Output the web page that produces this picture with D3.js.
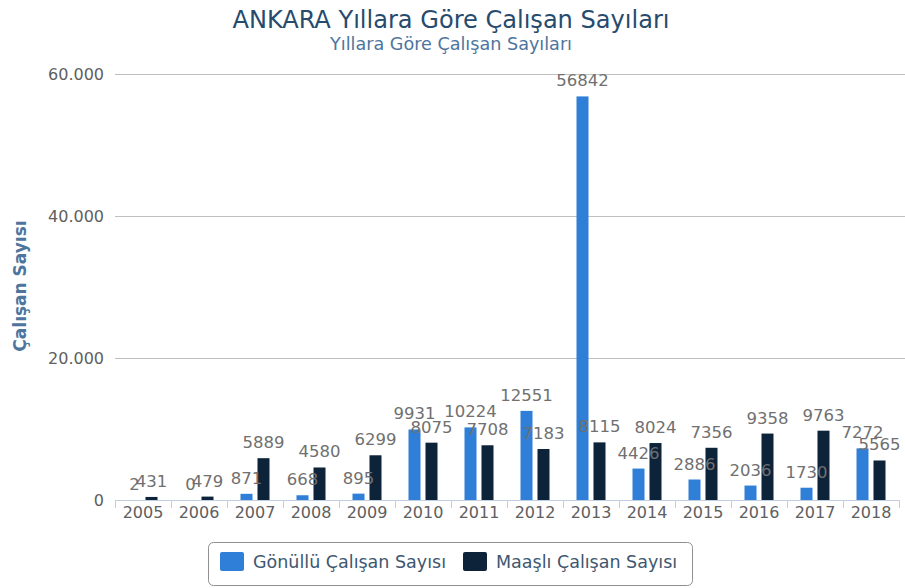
<!DOCTYPE html>
<html>
<head>
<meta charset="utf-8">
<script src="https://cdn.jsdelivr.net/npm/d3@7"></script>
<style>
  body { margin: 0; background: #fff; }
  text { font-family: "DejaVu Sans", sans-serif; }
</style>
</head>
<body>
<script>
const years = ["2005", "2006", "2007", "2008", "2009", "2010", "2011", "2012", "2013", "2014", "2015", "2016", "2017", "2018"];
const gonullu = [2, 0, 871, 668, 895, 9931, 10224, 12551, 56842, 4426, 2886, 2036, 1730, 7272];
const maasli = [431, 479, 5889, 4580, 6299, 8075, 7708, 7183, 8115, 8024, 7356, 9358, 9763, 5565];
const seriesNames = ["Gönüllü Çalışan Sayısı", "Maaşlı Çalışan Sayısı"];
const seriesColors = ["#2f7ed8", "#0d233a"];
const yTicks = [0, 20000, 40000, 60000];

const width = 905;
const height = 588;
const margin = { left: 115, right: 6, top: 74, bottom: 88 };

const svg = d3.select("body").append("svg")
  .attr("width", width)
  .attr("height", height);

const x = d3.scaleBand()
  .domain(years)
  .range([margin.left, width - margin.right]);

const xInner = d3.scaleBand()
  .domain(seriesNames)
  .range([0, x.bandwidth()])
  .paddingInner(0.294)
  .paddingOuter(0.794);

const y = d3.scaleLinear()
  .domain([0, 60000])
  .range([height - margin.bottom, margin.top]);

// title
svg.append("text")
  .attr("x", 451).attr("y", 28)
  .attr("text-anchor", "middle")
  .attr("fill", "#274b6d")
  .attr("textLength", 437)
  .attr("lengthAdjust", "spacingAndGlyphs")
  .style("font-family", "'DejaVu Sans Condensed', 'DejaVu Sans', sans-serif")
  .style("font-size", "24px")
  .text("ANKARA Yıllara Göre Çalışan Sayıları");

svg.append("text")
  .attr("x", 451).attr("y", 50)
  .attr("text-anchor", "middle")
  .attr("fill", "#4d759e")
  .attr("textLength", 242)
  .attr("lengthAdjust", "spacingAndGlyphs")
  .style("font-family", "'DejaVu Sans Condensed', 'DejaVu Sans', sans-serif")
  .style("font-size", "17px")
  .text("Yıllara Göre Çalışan Sayıları");

// grid
svg.append("g")
  .selectAll("line")
  .data(yTicks.filter(d => d > 0))
  .join("line")
  .attr("x1", margin.left)
  .attr("x2", width)
  .attr("y1", d => y(d) + 0.5)
  .attr("y2", d => y(d) + 0.5)
  .attr("stroke", "#c0c0c0");

// y axis labels
svg.append("g")
  .selectAll("text")
  .data(yTicks)
  .join("text")
  .attr("x", 104)
  .attr("y", d => y(d) + 6)
  .attr("text-anchor", "end")
  .attr("fill", "#606060")
  .style("font-size", "16px")
  .text(d => d3.format(",")(d).replace(/,/g, "."));

svg.append("text")
  .attr("transform", `translate(26, ${286}) rotate(-90)`)
  .attr("text-anchor", "middle")
  .attr("fill", "#4d759e")
  .style("font-size", "17px")
  .style("font-weight", "bold")
  .text("Çalışan Sayısı");

// x axis
const xAxis = d3.axisBottom(x)
  .tickSizeOuter(0)
  .tickSizeInner(0)
  .tickPadding(7);

const xg = svg.append("g")
  .attr("transform", `translate(0, ${y(0)})`)
  .call(xAxis);
xg.select(".domain").attr("stroke", "#c0d0e0");
xg.selectAll("text")
  .attr("fill", "#606060")
  .style("font-size", "16px")
  .style("font-family", "'DejaVu Sans', sans-serif");

// category boundary ticks
xg.append("g")
  .selectAll("line")
  .data(years.concat(["end"]))
  .join("line")
  .attr("x1", (d, i) => Math.round(margin.left + i * x.step()) + 0.5)
  .attr("x2", (d, i) => Math.round(margin.left + i * x.step()) + 0.5)
  .attr("y1", 0)
  .attr("y2", 8)
  .attr("stroke", "#c0d0e0");

// bars
const rows = years.map((yr, i) => ({ year: yr, values: [gonullu[i], maasli[i]] }));

const groups = svg.append("g")
  .selectAll("g")
  .data(rows)
  .join("g")
  .attr("transform", d => `translate(${x(d.year)}, 0)`);

groups.selectAll("rect")
  .data(d => d.values.map((v, k) => ({ name: seriesNames[k], value: v, k })))
  .join("rect")
  .attr("x", d => xInner(d.name))
  .attr("width", xInner.bandwidth())
  .attr("y", d => y(d.value))
  .attr("height", d => y(0) - y(d.value))
  .attr("fill", d => seriesColors[d.k]);

groups.selectAll("text")
  .data(d => d.values.map((v, k) => ({ name: seriesNames[k], value: v, k })))
  .join("text")
  .attr("x", d => xInner(d.name) + xInner.bandwidth() / 2)
  .attr("y", d => y(d.value) - 10)
  .attr("text-anchor", "middle")
  .attr("fill", "#707070")
  .style("font-size", "16.5px")
  .text(d => d.value);

// legend
const legend = svg.append("g");
legend.append("rect")
  .attr("x", 208.5).attr("y", 542.5)
  .attr("width", 484).attr("height", 43)
  .attr("rx", 5)
  .attr("fill", "#fff")
  .attr("stroke", "#909090");

const legendX = [220, 463];
seriesNames.forEach((name, k) => {
  legend.append("rect")
    .attr("x", legendX[k]).attr("y", 552)
    .attr("width", 24).attr("height", 19)
    .attr("rx", 2)
    .attr("fill", seriesColors[k]);
  legend.append("text")
    .attr("x", legendX[k] + 33).attr("y", 568)
    .attr("fill", "#3e576f")
    .style("font-size", "17.5px")
    .text(name);
});
</script>
</body>
</html>
